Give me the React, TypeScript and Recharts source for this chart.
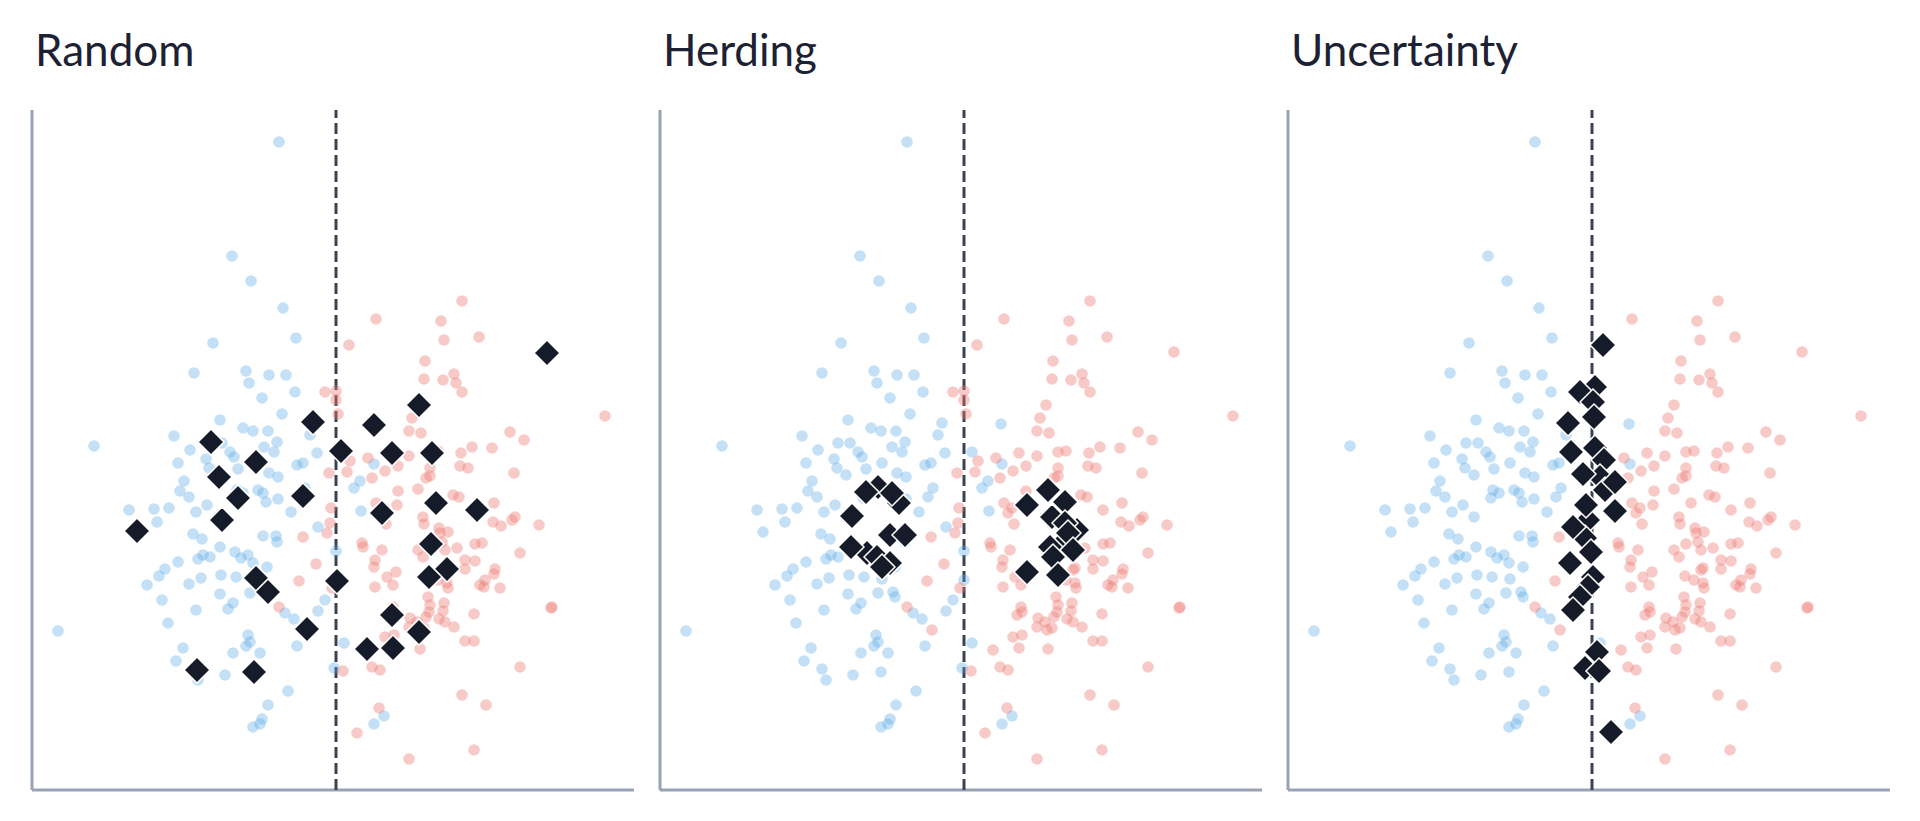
import React from 'react';
import { ScatterChart, Scatter, XAxis, YAxis, ReferenceLine } from 'recharts';

// Three panels share the same labelled pool; only the selected (diamond) points differ.
const TITLES = ['Random', 'Herding', 'Uncertainty'];

const BLUE_POOL: [number, number][] = [
  [247, 648], [200, 534], [219, 509], [251, 482], [264, 452], [181, 447], [162, 417], [214, 419],
  [217, 407], [237, 415], [254, 415], [263, 398], [230, 392], [250, 376], [188, 370], [211, 362],
  [221, 359], [236, 359], [142, 354], [62, 344], [178, 347], [190, 347], [198, 338], [158, 340],
  [232, 343], [245, 348], [242, 338], [146, 327], [174, 331], [177, 322], [202, 333], [222, 327],
  [186, 315], [206, 321], [237, 317], [246, 313], [265, 325], [271, 327], [152, 309], [148, 299],
  [157, 293], [205, 300], [211, 297], [203, 292], [226, 300], [231, 297], [234, 288], [246, 291],
  [268, 293], [273, 302], [259, 278], [97, 280], [122, 281], [137, 282], [125, 268], [103, 258],
  [164, 278], [175, 285], [186, 273], [161, 256], [170, 251], [188, 243], [231, 254], [244, 254],
  [245, 248], [171, 235], [166, 231], [178, 233], [146, 228], [203, 238], [216, 235], [209, 232],
  [221, 227], [133, 221], [127, 214], [115, 205], [157, 206], [169, 212], [189, 215], [204, 213],
  [235, 223], [222, 211], [188, 196], [218, 197], [233, 198], [235, 193], [130, 190], [164, 180],
  [201, 187], [196, 181], [253, 177], [262, 171], [136, 167], [26, 159], [216, 155], [218, 148],
  [214, 144], [151, 142], [144, 129], [201, 137], [228, 137], [265, 144], [162, 121], [166, 110],
  [193, 115], [221, 118], [256, 99], [236, 85], [230, 71], [228, 66], [221, 63],
  [278, 355], [282, 367], [285, 337], [286, 263], [304, 239], [304, 210], [293, 190], [286, 179],
  [312, 147], [302, 122], [341, 366], [342, 326], [329, 279], [322, 302], [328, 309], [312, 338],
  [352, 74], [342, 66],
];

const RED_POOL: [number, number][] = [
  [430, 489], [344, 471], [409, 469], [412, 450], [447, 453], [514, 438], [393, 429], [392, 411],
  [411, 410], [422, 416], [424, 407], [430, 398], [386, 385], [573, 374], [380, 372], [377, 359],
  [389, 357], [478, 358], [492, 350], [359, 337], [377, 334], [398, 338], [406, 339], [429, 337],
  [440, 343], [460, 342], [336, 332], [353, 319], [366, 324], [398, 322], [394, 312], [398, 314],
  [428, 324], [436, 322], [482, 317], [340, 312], [366, 299], [386, 301], [421, 295], [427, 293],
  [462, 287], [443, 280], [403, 287], [344, 287], [352, 282], [348, 277], [365, 285], [354, 266],
  [391, 273], [392, 266], [407, 262], [416, 258], [408, 257], [461, 268], [469, 264], [480, 270],
  [483, 273], [507, 265], [330, 247], [331, 243], [350, 240], [386, 240], [391, 233], [398, 246],
  [410, 248], [413, 240], [425, 242], [443, 246], [450, 247], [488, 237], [343, 230], [342, 223],
  [433, 230], [443, 229], [433, 221], [413, 220], [415, 222], [463, 221], [462, 216], [355, 213],
  [364, 218], [397, 214], [406, 210], [415, 207], [416, 202], [343, 203], [361, 205], [448, 205],
  [453, 210], [452, 203], [468, 202], [396, 193], [520, 183], [519, 182], [361, 183], [362, 178],
  [357, 175], [398, 185], [397, 178], [394, 173], [412, 187], [411, 179], [442, 176], [378, 172],
  [385, 168], [377, 163], [387, 160], [392, 162], [407, 171], [413, 168], [422, 163], [353, 153],
  [362, 155], [359, 142], [388, 141], [333, 140], [433, 149], [442, 149], [340, 123], [348, 120],
  [488, 123], [430, 95], [454, 85], [347, 82], [442, 40], [377, 31],
  [271, 253], [267, 209], [247, 183], [272, 160], [317, 445], [293, 398], [304, 399], [304, 390],
  [306, 376], [297, 317], [315, 318], [318, 329], [299, 282], [298, 267], [295, 257], [284, 226],
  [300, 202], [311, 119], [325, 57],
];

const PICKS_RANDOM: [number, number][] = [
  [515, 437], [387, 385], [281, 368], [342, 365], [179, 348], [309, 339], [360, 337], [400, 337],
  [224, 328], [187, 313], [206, 292], [271, 294], [404, 287], [445, 280], [350, 277], [190, 270],
  [105, 259], [399, 246], [415, 221], [397, 213], [224, 212], [236, 198], [305, 209], [360, 175],
  [275, 161], [387, 158], [335, 141], [361, 142], [165, 120], [222, 118],
];

const PICKS_HERDING: [number, number][] = [
  [218, 303], [206, 298], [239, 287], [232, 297], [192, 274], [230, 255], [207, 237], [245, 255],
  [217, 233], [191, 243], [230, 227], [222, 223],
  [388, 300], [367, 285], [405, 288], [392, 273], [417, 260], [405, 267], [403, 247], [408, 257],
  [390, 243], [413, 240], [393, 233], [367, 218], [398, 215],
];

const PICKS_UNCERTAINTY: [number, number][] = [
  [315, 445], [307, 403], [292, 398], [305, 388], [306, 373], [280, 367], [307, 342], [283, 338],
  [316, 330], [312, 313], [295, 316], [317, 300], [327, 308], [300, 270], [298, 285], [327, 279],
  [297, 252], [285, 263], [303, 238], [282, 227], [305, 213], [300, 203], [292, 193], [285, 180],
  [309, 138], [297, 122], [311, 119], [323, 58],
];

const BOUNDARY = 304;
const PICKS = [PICKS_RANDOM, PICKS_HERDING, PICKS_UNCERTAINTY];

const AXIS = '#97a2b7';
const INK = '#161b29';
const toRows = (pts: [number, number][]) => pts.map(([x, y]) => ({ x, y }));

const Dot = (fill: string, opacity: number) => (p: any) => (
  <circle cx={p.cx} cy={p.cy} r={5.8} fill={fill} fillOpacity={opacity} />
);

const Diamond = (p: any) => {
  const h = 13;
  return (
    <path
      d={`M${p.cx},${p.cy - h}L${p.cx + h},${p.cy}L${p.cx},${p.cy + h}L${p.cx - h},${p.cy}Z`}
      fill={INK}
      stroke="#fff"
      strokeWidth={1.5}
    />
  );
};

function Panel({ index }: { index: number }) {
  return (
    <div style={{ position: 'absolute', left: index * 628, top: 0 }}>
      <ScatterChart width={634} height={821} margin={{ top: 110, right: 0, bottom: 31, left: 32 }}>
        <XAxis type="number" dataKey="x" domain={[0, 602]} hide />
        <YAxis type="number" dataKey="y" domain={[0, 680]} hide />
        <ReferenceLine x={0} stroke={AXIS} strokeWidth={3} ifOverflow="visible" />
        <ReferenceLine y={0} stroke={AXIS} strokeWidth={3} ifOverflow="visible" />
        <Scatter data={toRows(BLUE_POOL)} shape={Dot('#5aa9e6', 0.36)} isAnimationActive={false} />
        <Scatter data={toRows(RED_POOL)} shape={Dot('#ee7b74', 0.4)} isAnimationActive={false} />
        <ReferenceLine x={BOUNDARY} stroke="#3b4252" strokeWidth={3} strokeDasharray="11 5" />
        <Scatter data={toRows(PICKS[index])} shape={Diamond} isAnimationActive={false} />
      </ScatterChart>
    </div>
  );
}

export default function App() {
  return (
    <div style={{ position: 'absolute', left: 0, top: 0, width: 1920, height: 821, background: '#fff', overflow: 'hidden' }}>
      {TITLES.map((_, i) => <Panel key={i} index={i} />)}
      <svg width={1920} height={100} style={{ position: 'absolute', left: 0, top: 0 }}>
        {TITLES.map((t, i) => (
          <text key={t} x={35 + i * 628} y={66} fontFamily="Lato" fontSize={44} fill="#1c2233">{t}</text>
        ))}
      </svg>
    </div>
  );
}
